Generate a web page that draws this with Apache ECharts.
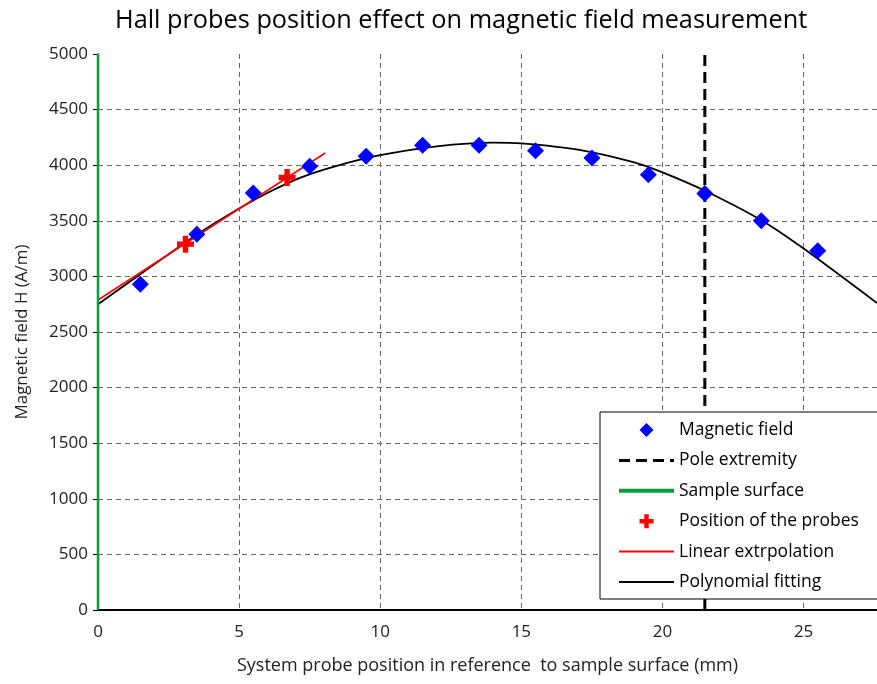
<!DOCTYPE html>
<html>
<head>
<meta charset="utf-8">
<script src="https://cdn.jsdelivr.net/npm/echarts@6/dist/echarts.min.js"></script>
<style>html,body{margin:0;padding:0;background:#fff}#c{width:877px;height:684px}</style>
</head>
<body>
<div id="c"></div>
<script>
// Data
const fieldX = [1.5, 3.5, 5.5, 7.5, 9.5, 11.5, 13.5, 15.5, 17.5, 19.5, 21.5, 23.5, 25.5];
const fieldY = [2930, 3380, 3750, 3990, 4080, 4180, 4180, 4130, 4065, 3915, 3745, 3500, 3230];
const probeX = [3.1, 6.7];
const probeY = [3290, 3890];
const linearX = [0, 8.05];
const linearY = [2788, 4110];
const polyX = [0, 1.5, 3.5, 5, 6, 7.2, 8.4, 10, 12, 14, 15, 17, 19, 20, 21.5, 23.5, 25, 27.6];
const polyY = [2750, 3020, 3375, 3610, 3750, 3890, 3990, 4090, 4170, 4203, 4196, 4140, 4025, 3935, 3770, 3505, 3250, 2760];
const poleX = [21.5, 21.5];
const poleY = [0, 5000];
const surfaceX = [0, 0];
const surfaceY = [0, 5000];
const xTicks = [0, 5, 10, 15, 20, 25];
const yMin = 0, yMax = 5000, yStep = 500;
const xMin = 0, xMax = 27.6, xStep = 5;

const zip = (xs, ys) => xs.map((x, i) => [x, ys[i]]);
const FONT = 'Open Sans';
const crossPath = 'path://M3.4,0H6.6V3.4H10V6.6H6.6V10H3.4V6.6H0V3.4H3.4Z';
const diamondPath = 'path://M5,0L10,5L5,10L0,5Z';
const hideSym = { opacity: 0 };

const chart = echarts.init(document.getElementById('c'));
chart.setOption({
  animation: false,
  backgroundColor: '#fff',
  title: {
    text: 'Hall probes position effect on magnetic field measurement',
    left: 110, top: 3,
    textStyle: { fontFamily: FONT, fontSize: 25.3, fontWeight: 'normal', color: '#000' }
  },
  grid: { left: 98, right: 0, top: 54, bottom: 74, outerBoundsMode: 'none' },
  legend: {
    orient: 'vertical',
    left: 600, top: 412,
    padding: [9, 40, 8, 17],
    itemWidth: 55, itemHeight: 14, itemGap: 12.4,
    backgroundColor: '#fff',
    borderColor: '#000', borderWidth: 1,
    textStyle: { fontFamily: FONT, fontSize: 17.5, color: '#000', lineHeight: 18 },
    data: [
      { name: 'Magnetic field', icon: diamondPath },
      { name: 'Pole extremity', itemStyle: hideSym, lineStyle: { width: 3, type: [11, 6] } },
      { name: 'Sample surface', itemStyle: hideSym, lineStyle: { width: 4 } },
      { name: 'Position of the probes', icon: crossPath },
      { name: 'Linear extrpolation', itemStyle: hideSym },
      { name: 'Polynomial fitting', itemStyle: hideSym }
    ]
  },
  xAxis: [{
    type: 'value', min: xMin, max: xMax, interval: xStep,
    axisLine: { show: true, onZero: false, lineStyle: { color: '#000', width: 2 } },
    axisTick: { show: false },
    axisLabel: {
      margin: 14, fontFamily: FONT, fontSize: 17, color: '#222',
      showMaxLabel: false,
      formatter: v => (xTicks.indexOf(v) >= 0 ? String(v) : '')
    },
    splitLine: { show: true, showMinLine: false, showMaxLine: false, lineStyle: { color: '#666', type: [5, 4], width: 1 } },
    name: 'System probe position in reference  to sample surface (mm)',
    nameLocation: 'middle', nameGap: 47,
    nameTextStyle: { fontFamily: FONT, fontSize: 18, color: '#222' }
  }, {
    type: 'value', position: 'top', min: xMin, max: xMax,
    axisLine: { show: true, lineStyle: { color: '#000', width: 2 } },
    axisTick: { show: false }, axisLabel: { show: false }, splitLine: { show: false }
  }],
  yAxis: {
    type: 'value', min: yMin, max: yMax, interval: yStep,
    axisLine: { show: true, lineStyle: { color: '#000', width: 1.5 } },
    axisTick: { show: true, inside: false, length: 5, lineStyle: { color: '#000' } },
    axisLabel: { margin: 10, fontFamily: FONT, fontSize: 17, color: '#222', formatter: v => String(v) },
    splitLine: { show: true, showMinLine: false, showMaxLine: false, lineStyle: { color: '#666', type: [5, 4], width: 1 } },
    name: 'Magnetic field H (A/m)',
    nameLocation: 'middle', nameGap: 67, nameRotate: 90,
    nameTextStyle: { fontFamily: FONT, fontSize: 17, color: '#222' }
  },
  series: [
    {
      name: 'Polynomial fitting', type: 'line', data: zip(polyX, polyY),
      smooth: 0.25, symbol: 'none', showSymbol: false, z: 3,
      lineStyle: { color: '#000', width: 1.8 }, itemStyle: { color: '#000' }
    },
    {
      name: 'Linear extrpolation', type: 'line', data: zip(linearX, linearY),
      symbol: 'none', showSymbol: false, z: 4,
      lineStyle: { color: '#ff0000', width: 1.6 }, itemStyle: { color: '#ff0000' }
    },
    {
      name: 'Magnetic field', type: 'scatter', data: zip(fieldX, fieldY),
      symbol: 'diamond', symbolSize: 17, z: 5,
      itemStyle: { color: '#0000ff', opacity: 1 }
    },
    {
      name: 'Pole extremity', type: 'line', data: zip(poleX, poleY),
      symbol: 'none', showSymbol: false, z: 2,
      lineStyle: { color: '#000', width: 3, type: [11, 6] }, itemStyle: { color: '#000' }
    },
    {
      name: 'Sample surface', type: 'line', data: zip(surfaceX, surfaceY),
      symbol: 'none', showSymbol: false, z: 6,
      lineStyle: { color: '#00a040', width: 2.5 }, itemStyle: { color: '#00a040' }
    },
    {
      name: 'Position of the probes', type: 'scatter', data: zip(probeX, probeY),
      symbol: crossPath, symbolSize: 17, z: 7,
      itemStyle: { color: '#ff0000', opacity: 1 }
    }
  ]
});
</script>
</body>
</html>
